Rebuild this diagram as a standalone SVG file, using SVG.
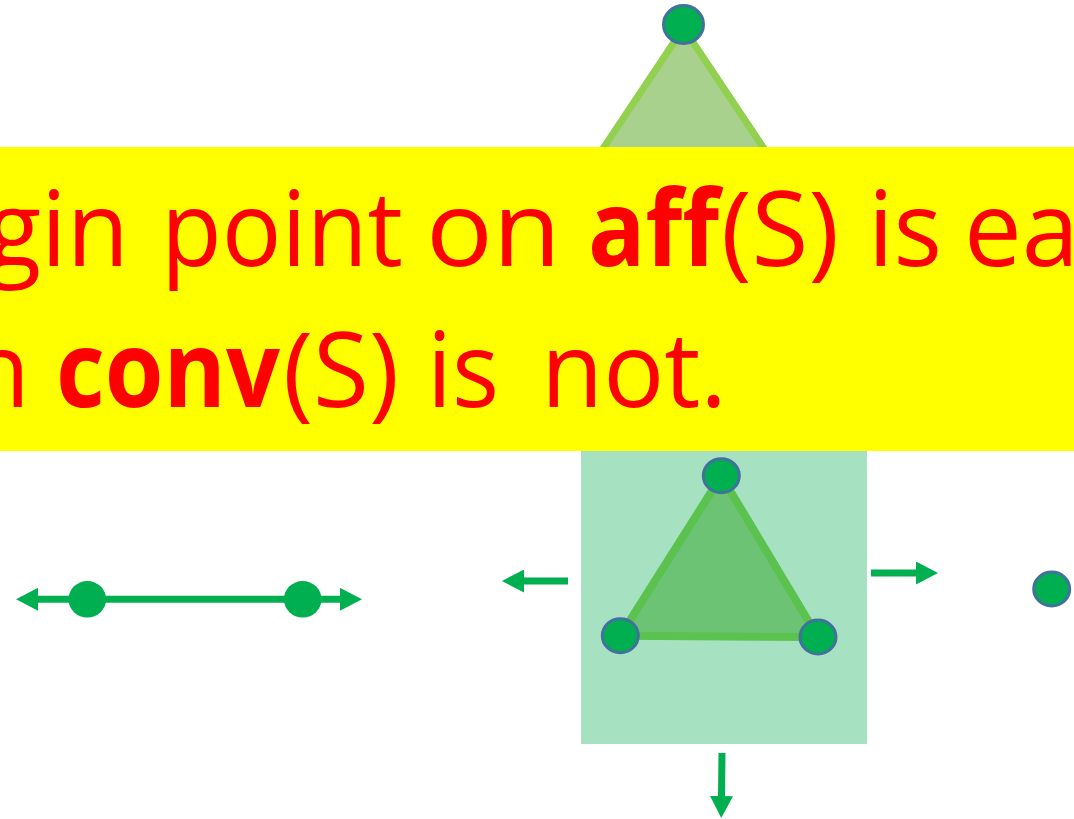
<svg xmlns="http://www.w3.org/2000/svg" width="1074" height="819" viewBox="0 0 1074 819">
<style>
.node{fill:#00b050;stroke:#41719c;stroke-width:3}
.plain{fill:#00b050;stroke:none}
.conn{stroke:#00b050;stroke-width:7;fill:none}
.txt{font-family:"Open Sans","Noto Sans",sans-serif;font-size:105px;fill:#ff0000}
.b{font-weight:bold}
</style>
<defs>
<marker id="head" markerUnits="userSpaceOnUse" viewBox="0 0 22 23" refX="0" refY="11.5" markerWidth="22" markerHeight="23" orient="auto-start-reverse">
<path d="M0,0 L22,11.5 L0,23 Z" fill="#00b050"/>
</marker>
</defs>
<rect width="1074" height="819" fill="#ffffff"/>
<g id="top-simplex">
<polygon points="683.5,28 502,300 865,300" fill="#a9d18e" stroke="#92d050" stroke-width="7" stroke-linejoin="round"/>
<ellipse class="node" cx="683.5" cy="24.5" rx="20" ry="19"/>
</g>
<g id="banner">
<rect x="0" y="147" width="1074" height="304" fill="#ffff00"/>
<text class="txt" y="266"><tspan x="-14" textLength="143" lengthAdjust="spacingAndGlyphs">gin</tspan> <tspan x="161" textLength="242" lengthAdjust="spacingAndGlyphs">point</tspan> <tspan x="426" textLength="135" lengthAdjust="spacingAndGlyphs">on</tspan> <tspan class="b" x="588" textLength="131" lengthAdjust="spacingAndGlyphs">aff</tspan><tspan x="721" textLength="118" lengthAdjust="spacingAndGlyphs">(S)</tspan> <tspan x="868" textLength="74" lengthAdjust="spacingAndGlyphs">is</tspan> <tspan x="964" textLength="115" lengthAdjust="spacingAndGlyphs">ea</tspan></text>
<text class="txt" y="407"><tspan x="-32" textLength="62" lengthAdjust="spacingAndGlyphs">n</tspan> <tspan class="b" x="56" textLength="224" lengthAdjust="spacingAndGlyphs">conv</tspan><tspan x="283" textLength="116" lengthAdjust="spacingAndGlyphs">(S)</tspan> <tspan x="427" textLength="72" lengthAdjust="spacingAndGlyphs">is</tspan> <tspan x="541" textLength="186" lengthAdjust="spacingAndGlyphs">not.</tspan></text>
</g>
<g id="box">
<rect x="581" y="451" width="286" height="293" fill="#a6e2c1"/>
<polygon points="721.3,476 620.3,635.7 818,637" fill="#6cc374" stroke="#5bc24f" stroke-width="8" stroke-linejoin="round"/>
</g>
<g id="connectors">
<line class="conn" x1="38" y1="599.3" x2="340" y2="599.3" marker-start="url(#head)" marker-end="url(#head)"/>
<line class="conn" x1="568" y1="581" x2="524" y2="581" marker-end="url(#head)"/>
<line class="conn" x1="871" y1="573" x2="916" y2="573" marker-end="url(#head)"/>
<line class="conn" x1="722" y1="753" x2="721.5" y2="796" marker-end="url(#head)"/>
</g>
<g id="node-line-a"><ellipse class="plain" cx="87.3" cy="599.3" rx="18.8" ry="18.3"/></g>
<g id="node-line-b"><ellipse class="plain" cx="302.7" cy="599.3" rx="18.8" ry="18.3"/></g>
<g id="node-tri-top"><ellipse class="node" cx="721.3" cy="475.7" rx="18" ry="17"/></g>
<g id="node-tri-left"><ellipse class="node" cx="620.3" cy="635.7" rx="18" ry="17"/></g>
<g id="node-tri-right"><ellipse class="node" cx="818" cy="637" rx="18" ry="17"/></g>
<g id="node-point"><ellipse class="node" cx="1051.7" cy="589" rx="18" ry="17"/></g>
</svg>
